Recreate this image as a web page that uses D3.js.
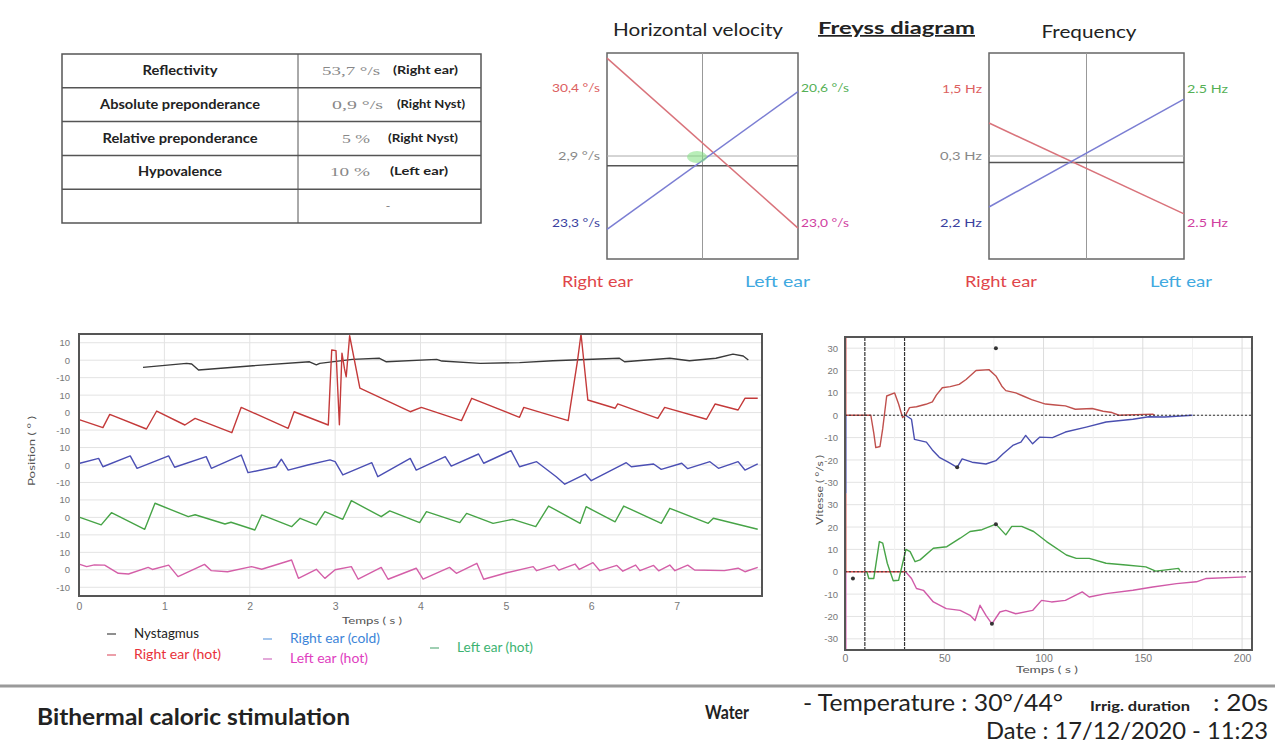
<!DOCTYPE html>
<html>
<head>
<meta charset="utf-8">
<script src="https://cdn.jsdelivr.net/npm/d3@7"></script>
<style>
  html, body { margin: 0; padding: 0; background: #fff; }
  svg { display: block; font-family: Lato, "Open Sans", sans-serif; }
  .tick text { fill: #777; }
</style>
</head>
<body>
<svg id="page" width="1275" height="747"></svg>
<script>
/* ---- Summary table ---- */
const tableLabels = ['Reflectivity', 'Absolute preponderance', 'Relative preponderance', 'Hypovalence', ''];
const tableValues = ['53,7 °/s', '0,9 °/s', '5 %', '10 %', '-'];
const tableSides = ['(Right ear)', '(Right Nyst)', '(Right Nyst)', '(Left ear)', ''];

/* ---- Freyss diagram (line ends in diagram units, left side -> right side) ---- */
const velRed = [38, -28];
const velBlue = [-28.5, 25];
const velRefLines = [0, -3.8];
const velLabelsLeft = ['30,4 °/s', '2,9 °/s', '23,3 °/s'];
const velLabelsRight = ['20,6 °/s', '23,0 °/s'];
const freqRed = [1.28, -2.25];
const freqBlue = [-1.98, 2.21];
const freqRefLines = [0, -0.25];
const freqLabelsLeft = ['1,5 Hz', '0,3 Hz', '2,2 Hz'];
const freqLabelsRight = ['2.5 Hz', '2.5 Hz'];

/* ---- Position traces [time s, position °] ---- */
const posTicks = [0, 1, 2, 3, 4, 5, 6, 7];
const bandTicks = [10, 0, -10];
const nystagmus = [[0.75,-4.1],[1.26,-1.8],[1.32,-2.2],[1.40,-5.6],[2.0,-3.3],[2.70,-0.9],[2.78,-2.7],[2.82,-1.8],[3.20,0.5],[3.52,1.1],[3.60,-0.9],[4.19,0.5],[4.25,-0.5],[4.70,-1.8],[5.16,-1.4],[5.55,-0.3],[6.33,1.1],[6.39,-0.9],[6.92,1.1],[7.15,-0.3],[7.46,1.1],[7.66,3.5],[7.78,2.4],[7.84,0.1]];
const rightHot = [[0.01,-4.2],[0.28,-8.6],[0.36,-1],[0.79,-9.4],[0.91,0.9],[1.24,-7.1],[1.36,-3.3],[1.79,-11.5],[1.90,3],[2.45,-9],[2.52,0.5],[2.92,-7.1],[2.96,35.8],[3.01,35.5],[3.05,-7],[3.08,34],[3.11,25],[3.13,20.5],[3.17,44],[3.29,14],[3.88,0.5],[4.01,3],[4.48,-4.6],[4.60,8.2],[5.16,-2.7],[5.21,3],[5.73,-4.6],[5.84,30],[5.88,45],[5.96,7.2],[6.28,2.5],[6.31,5],[6.78,-3.3],[6.86,3],[7.35,-3.8],[7.45,4.9],[7.72,1.5],[7.80,8.2],[7.95,8.2]];
const rightCold = [[0.01,1],[0.23,3.8],[0.28,-1],[0.60,5.2],[0.68,-1.9],[1.05,5.2],[1.12,-1.3],[1.49,4.8],[1.55,-1.9],[1.90,5.7],[1.98,-4.4],[2.31,-1],[2.37,3.3],[2.45,-2.9],[2.68,0],[2.94,2.9],[3.0,1.9],[3.09,-5.7],[3.43,1.3],[3.50,-6.7],[3.88,3.8],[3.95,-2.9],[4.29,4.8],[4.36,-0.6],[4.68,6.3],[4.74,1],[5.06,8.2],[5.16,-1],[5.36,1.9],[5.59,-6.7],[5.69,-11],[5.93,-5.2],[6.0,-9],[6.41,1.3],[6.47,-1],[6.73,0.6],[6.82,-2.5],[7.06,1],[7.13,-2.1],[7.39,1.9],[7.49,-1.9],[7.72,1.9],[7.80,-2.9],[7.95,0.6]];
const leftHot = [[0.01,0],[0.26,-4.3],[0.38,2.7],[0.77,-6.8],[0.89,8.1],[1.28,0.4],[1.36,1.5],[1.71,-3.8],[1.78,-2.8],[2.06,-7.2],[2.14,1.4],[2.49,-5.3],[2.59,-0.5],[2.78,-4.3],[2.88,3.3],[3.09,-1.1],[3.19,9.6],[3.54,0.4],[3.64,3.7],[3.99,-3],[4.07,3.3],[4.46,-3],[4.54,2.3],[4.85,-3.4],[5.08,-1.1],[5.35,-5.3],[5.50,6.5],[5.87,-3.4],[5.94,6.1],[6.28,-2.5],[6.38,6.5],[6.82,-3.4],[6.92,5.2],[7.37,-3.4],[7.43,-0.5],[7.95,-6.8]];
const leftCold = [[0.01,3.1],[0.09,1.8],[0.18,2.8],[0.30,2.7],[0.46,-2],[0.58,-2.4],[0.81,1.4],[0.86,0.2],[1.05,2.7],[1.16,-3.9],[1.47,3.1],[1.55,-0.5],[1.74,-1.1],[2.02,1.8],[2.14,0.3],[2.49,5.6],[2.57,-4.9],[2.78,0.3],[2.88,-4.9],[3.0,0],[3.19,1.8],[3.27,-5.4],[3.54,1.4],[3.62,-5.4],[3.95,0.9],[4.03,-5.4],[4.34,1.4],[4.42,-2],[4.66,3.7],[4.74,-5.4],[5.01,-1.7],[5.32,1.8],[5.36,-0.5],[5.57,2.7],[5.62,-0.2],[5.81,3.3],[5.86,0.2],[6.02,4.1],[6.10,-0.5],[6.30,2.5],[6.37,-0.8],[6.52,2.7],[6.57,-0.5],[6.73,2.5],[6.79,-0.6],[6.92,2.7],[6.98,-0.5],[7.13,2.7],[7.21,-0.1],[7.56,-0.5],[7.72,0.9],[7.80,-1.1],[7.95,1.4]];

/* ---- Velocity traces [time s, velocity °/s] ---- */
const velTimeTicks = [0, 50, 100, 150, 200];
const velBandTicks = [30, 20, 10, 0, -10, -20, -30];
const irrigation = [10, 30];
const velRightHot = [[0,0],[13,0],[14.5,-8],[15.5,-14.5],[17.6,-14],[19,-6],[21,8.6],[25,10],[27,5],[29,-1],[30.5,0],[32.5,3.4],[36,3.8],[40.7,4.9],[44,6],[46,9],[49,12.3],[53,12.8],[57.5,13.8],[61,16],[66,20],[72.5,20.4],[76,17.6],[79,13],[81,11],[86,10],[90,8.5],[94,7],[101,5],[106,4.6],[111,4.2],[116,2.7],[124.5,3],[130,1.8],[134.5,1.2],[138,0],[155,0.5],[156,0]];
const velRightCold = [[30.5,0],[33.5,-1.8],[35,-10.8],[41,-12],[44,-15.5],[47.5,-18.8],[52,-21],[56.5,-23.3],[59,-19.5],[64,-21],[71,-21.8],[76,-20.3],[79.5,-17.3],[84.5,-13.5],[88.6,-12],[91,-9],[94.5,-12.8],[98,-9.8],[104.5,-10],[111,-7.5],[121.5,-5.3],[131.5,-3],[145,-1.8],[153,-0.7],[161,-0.8],[175,0]];
const velLeftHot = [[11,0],[12,-3],[14.5,-3],[17.3,13.5],[19,12.8],[21.3,3.8],[24.3,-4],[27,-3.8],[30.7,10],[32.8,9],[35.3,4.5],[37.8,5.3],[44.5,10.5],[51.3,11.2],[58,15],[63,18],[69,18.8],[76,21.3],[81,16.5],[84,20.3],[89,20.3],[95,18],[101.5,13.5],[111.5,7.5],[116.5,6],[123,6],[131.5,3.8],[141.5,3],[151.5,2.2],[156.5,0.3],[168,1.5],[169,0]];
const velLeftCold = [[30.5,0],[33.5,-3],[36,-7.5],[39.5,-8.3],[44.5,-13.5],[51,-16.5],[58,-17.3],[63,-19.5],[65.5,-21.8],[68,-15],[71,-19.5],[74,-23.3],[78,-18],[81,-17.3],[86,-18.8],[94.5,-17.3],[99,-12.8],[104,-13.5],[111,-12.8],[119.5,-9],[123,-11.3],[131.5,-9.8],[145,-8.3],[155,-6.8],[167,-5.3],[177,-4.5],[182,-3],[202,-2.3]];
const velRedBase = [[0,0],[30.5,0]];
const velMarks = [[0,76,30],[0,56.5,-23.3],[1,4,-3],[1,76,21.3],[1,74,-23.3]];

const legendNames = ['Nystagmus', 'Right ear (hot)', 'Right ear (cold)', 'Left ear (hot)', 'Left ear (hot)'];

const svg = d3.select('#page');

// stretch a text to the width it has in the reference
function fit(sel, w) {
  return sel.attr('textLength', w).attr('lengthAdjust', 'spacingAndGlyphs');
}

/* ====================== Table ====================== */
const tbl = svg.append('g');
const rowY = d3.scaleBand().domain(d3.range(tableLabels.length)).range([54, 223]);
tbl.append('rect').attr('x', 62).attr('y', 54).attr('width', 419).attr('height', 169)
  .attr('fill', 'none').attr('stroke', '#555').attr('stroke-width', 1.5);
tbl.selectAll('line.row').data(d3.range(1, tableLabels.length)).join('line')
  .attr('x1', 62).attr('x2', 481).attr('y1', d => rowY(d)).attr('y2', d => rowY(d))
  .attr('stroke', '#555').attr('stroke-width', 1.5);
tbl.append('line').attr('x1', 298).attr('x2', 298).attr('y1', 54).attr('y2', 223)
  .attr('stroke', '#555').attr('stroke-width', 1);
const labW = [75, 160, 155, 84, 0];
tableLabels.forEach((d, i) => {
  if (!d) return;
  fit(tbl.append('text')
    .attr('x', 180).attr('y', rowY(i) + rowY.bandwidth() / 2 + 4)
    .attr('text-anchor', 'middle').attr('font-size', 12.5).attr('font-weight', 700).attr('fill', '#222')
    .text(d), labW[i]);
});
const valX = [322, 332, 342, 330, 386];
const valW = [58, 51, 28, 40, 4];
tableValues.forEach((d, i) => {
  fit(tbl.append('text')
    .attr('x', valX[i]).attr('y', rowY(i) + rowY.bandwidth() / 2 + 4)
    .attr('font-family', '"Liberation Serif", serif').attr('font-size', 13).attr('fill', '#888')
    .text(d), valW[i]);
});
const sideX = [393, 397, 388, 390];
const sideW = [65, 68, 70, 58];
tableSides.forEach((d, i) => {
  if (!d) return;
  fit(tbl.append('text')
    .attr('x', sideX[i]).attr('y', rowY(i) + rowY.bandwidth() / 2 + 3)
    .attr('font-size', 10.5).attr('font-weight', 700).attr('fill', '#222')
    .text(d), sideW[i]);
});

/* ====================== Freyss diagrams ====================== */
fit(svg.append('text').attr('x', 818).attr('y', 34).attr('font-size', 17).attr('font-weight', 700)
  .attr('fill', '#222').attr('text-decoration', 'underline').text('Freyss diagram'), 157);

function freyss(o) {
  const { x0, x1 } = o;
  const g = svg.append('g');
  const y = d3.scaleLinear().domain(o.domain).range([259, 53]);
  const xs = d3.scaleLinear().domain([0, 1]).range([x0, x1]);
  fit(g.append('text').attr('x', o.titleX).attr('y', o.titleY).attr('text-anchor', 'middle')
    .attr('font-size', 17).attr('fill', '#222').text(o.title), o.titleW);
  g.append('rect').attr('x', x0).attr('y', 53).attr('width', x1 - x0).attr('height', 206)
    .attr('fill', '#fff').attr('stroke', '#666').attr('stroke-width', 1.5);
  g.append('line').attr('x1', xs(0.5)).attr('x2', xs(0.5)).attr('y1', 53).attr('y2', 259)
    .attr('stroke', '#999').attr('stroke-width', 1);
  g.selectAll('line.ref').data(o.refs).join('line')
    .attr('x1', x0).attr('x2', x1).attr('y1', d => y(d)).attr('y2', d => y(d))
    .attr('stroke', (d, i) => i === 0 ? '#aaa' : '#555').attr('stroke-width', (d, i) => i === 0 ? 1 : 1.5);
  const line = d3.line().x((d, i) => xs(i)).y(d => y(d));
  g.append('path').attr('d', line(o.red)).attr('fill', 'none').attr('stroke', '#d9737b').attr('stroke-width', 1.5);
  g.append('path').attr('d', line(o.blue)).attr('fill', 'none').attr('stroke', '#7b7ed3').attr('stroke-width', 1.5);
  const leftCol = ['#dc6060', '#888', '#3a3f9e'];
  o.labL.forEach((d, i) => {
    fit(g.append('text').attr('x', x0 - 7).attr('y', y(o.unitsAt[i]) + 4).attr('text-anchor', 'end')
      .attr('font-size', 11).attr('fill', leftCol[i]).text(d), o.labLW[i]);
  });
  const rightCol = ['#55b055', '#d0409f'];
  o.labR.forEach((d, i) => {
    fit(g.append('text').attr('x', x1 + 3).attr('y', y(o.unitsAt[i * 2]) + 4)
      .attr('font-size', 11).attr('fill', rightCol[i]).text(d), o.labRW);
  });
  fit(g.append('text').attr('x', o.rightEar[0]).attr('y', 287).attr('font-size', 16)
    .attr('fill', '#e0454a').text('Right ear'), o.rightEar[1]);
  fit(g.append('text').attr('x', o.leftEar[0]).attr('y', 287).attr('font-size', 16)
    .attr('fill', '#3fa9e0').text('Left ear'), o.leftEar[1]);
  return { g, y, xs };
}

const vel = freyss({
  x0: 607, x1: 798, domain: [-40, 40], red: velRed, blue: velBlue, refs: velRefLines,
  labL: velLabelsLeft, labLW: [48, 42, 48], labR: velLabelsRight, labRW: 48,
  title: 'Horizontal velocity', titleX: 698, titleY: 36, titleW: 170,
  unitsAt: [26.5, 0, -26], rightEar: [562, 71], leftEar: [745, 65]
});
vel.g.append('ellipse').attr('cx', 697).attr('cy', 157).attr('rx', 10).attr('ry', 6)
  .attr('fill', '#7ee07e').attr('opacity', 0.55);
freyss({
  x0: 989, x1: 1184, domain: [-4, 4], red: freqRed, blue: freqBlue, refs: freqRefLines,
  labL: freqLabelsLeft, labLW: [40, 42, 42], labR: freqLabelsRight, labRW: 41,
  title: 'Frequency', titleX: 1089, titleY: 38, titleW: 95,
  unitsAt: [2.6, 0, -2.6], rightEar: [965, 72], leftEar: [1150, 62]
});

/* ====================== Position chart ====================== */
const pos = { left: 79, right: 762, top: 334, bottom: 596 };
const px = d3.scaleLinear().domain([0, 8]).range([pos.left, pos.right]);
const py = d3.scaleLinear().domain([0, 150]).range([pos.bottom, pos.top]);
const posBand = b => 15 + 30 * (4 - b);
const posTickVals = [];
const posTickText = {};
d3.range(5).forEach(b => bandTicks.forEach(v => { posTickVals.push(posBand(b) + v); posTickText[posBand(b) + v] = v; }));

const pg = svg.append('g');
pg.append('g').selectAll('line').data(posTickVals).join('line')
  .attr('x1', pos.left).attr('x2', pos.right).attr('y1', d => py(d)).attr('y2', d => py(d))
  .attr('stroke', '#e3e3e3');
pg.append('g').selectAll('line').data(posTicks.slice(1)).join('line')
  .attr('x1', d => px(d)).attr('x2', d => px(d)).attr('y1', pos.top).attr('y2', pos.bottom)
  .attr('stroke', '#e3e3e3');

pg.append('g').attr('transform', `translate(${pos.left},0)`)
  .call(d3.axisLeft(py).tickValues(posTickVals).tickSize(0).tickPadding(9).tickFormat(d => posTickText[d]))
  .call(a => a.select('.domain').remove())
  .selectAll('text').attr('font-size', 9.5);
pg.append('g').attr('transform', `translate(0,${pos.bottom})`)
  .call(d3.axisBottom(px).tickValues(posTicks).tickSize(0).tickPadding(7))
  .call(a => a.select('.domain').remove())
  .selectAll('text').attr('font-size', 10.5);

const posLine = b => d3.line().x(d => px(d[0])).y(d => py(posBand(b) + d[1]));
const posSeries = [
  [nystagmus, '#3a3a3a', 0],
  [rightHot, '#c43a3a', 1],
  [rightCold, '#4b4fb4', 2],
  [leftHot, '#47a447', 3],
  [leftCold, '#d45fa8', 4]
];
pg.append('g').selectAll('path').data(posSeries).join('path')
  .attr('d', d => posLine(d[2])(d[0]))
  .attr('fill', 'none').attr('stroke', d => d[1]).attr('stroke-width', 1.4).attr('stroke-linejoin', 'round');

pg.append('rect').attr('x', pos.left).attr('y', pos.top)
  .attr('width', pos.right - pos.left).attr('height', pos.bottom - pos.top)
  .attr('fill', 'none').attr('stroke', '#555').attr('stroke-width', 2);

fit(pg.append('text').attr('transform', `translate(35,451) rotate(-90)`)
  .attr('text-anchor', 'middle').attr('font-size', 10).attr('fill', '#555').text('Position ( ° )'), 70);
fit(pg.append('text').attr('x', 372).attr('y', 624).attr('text-anchor', 'middle')
  .attr('font-size', 10).attr('fill', '#555').text('Temps ( s )'), 60);

/* legend */
const legendPos = [[107, 638], [107, 659], [263, 643], [263, 663], [430, 652]];
const legendW = [65, 87, 90, 78, 76];
const legendText = ['#222', '#e8323a', '#3d85d8', '#e040c0', '#3cb371'];
const legendDash = ['#444', '#e06070', '#6aa0e0', '#d070c0', '#60b080'];
legendNames.forEach((d, i) => {
  const lg = svg.append('g').attr('transform', `translate(${legendPos[i][0]},${legendPos[i][1]})`);
  lg.append('line').attr('x1', 0).attr('x2', 9).attr('y1', -4).attr('y2', -4)
    .attr('stroke', legendDash[i]).attr('stroke-width', 1.2);
  fit(lg.append('text').attr('x', 27).attr('font-size', 13).attr('fill', legendText[i]).text(d), legendW[i]);
});

/* ====================== Velocity chart ====================== */
const vp = { left: 845, right: 1252, top: 337, bottom: 650 };
const vx = d3.scaleLinear().domain([0, 205]).range([vp.left, vp.right]);
const vy = d3.scaleLinear().domain([0, 140]).range([vp.bottom, vp.top]);
const velBand = b => b === 0 ? 105 : 35;
const velTickVals = [];
const velTickText = {};
[0, 1].forEach(b => velBandTicks.forEach(v => { velTickVals.push(velBand(b) + v); velTickText[velBand(b) + v] = v; }));

const vg = svg.append('g');
vg.append('g').selectAll('line').data(velTickVals).join('line')
  .attr('x1', vp.left).attr('x2', vp.right).attr('y1', d => vy(d)).attr('y2', d => vy(d))
  .attr('stroke', '#e3e3e3');
vg.append('g').selectAll('line').data([25, 50, 75, 100, 125, 150, 175, 200]).join('line')
  .attr('x1', d => vx(d)).attr('x2', d => vx(d)).attr('y1', vp.top).attr('y2', vp.bottom)
  .attr('stroke', d => d % 50 === 0 ? '#dcdcdc' : '#f0f0f0');

vg.append('g').attr('transform', `translate(${vp.left},0)`)
  .call(d3.axisLeft(vy).tickValues(velTickVals).tickSize(0).tickPadding(7).tickFormat(d => velTickText[d]))
  .call(a => a.select('.domain').remove())
  .selectAll('text').attr('font-size', 9.5);
vg.append('g').attr('transform', `translate(0,${vp.bottom})`)
  .call(d3.axisBottom(vx).tickValues(velTimeTicks).tickSize(0).tickPadding(5))
  .call(a => a.select('.domain').remove())
  .selectAll('text').attr('font-size', 10.5);

/* colored edge at t = 0 */
const edge = [[0, 0, 35, '#e07070'], [0, -35, 0, '#5a5ab8'], [1, 0, 35, '#e07070'], [1, -35, 0, '#e070c0']];
vg.append('g').selectAll('line').data(edge).join('line')
  .attr('x1', vx(0) + 1).attr('x2', vx(0) + 1)
  .attr('y1', d => vy(velBand(d[0]) + d[1])).attr('y2', d => vy(velBand(d[0]) + d[2]))
  .attr('stroke', d => d[3]).attr('stroke-width', 1.2);

const velLine = b => d3.line().x(d => vx(d[0])).y(d => vy(velBand(b) + d[1]));
const velSeries = [
  [velRedBase, '#d85050', 1],
  [velRightHot, '#c0504d', 0],
  [velRightCold, '#4a4fb0', 0],
  [velLeftHot, '#47a447', 1],
  [velLeftCold, '#d05aa8', 1]
];
vg.append('g').selectAll('path').data(velSeries).join('path')
  .attr('d', d => velLine(d[2])(d[0]))
  .attr('fill', 'none').attr('stroke', d => d[1]).attr('stroke-width', 1.4).attr('stroke-linejoin', 'round');

/* zero lines and irrigation markers */
vg.append('g').selectAll('line').data([0, 1]).join('line')
  .attr('x1', vp.left).attr('x2', vp.right).attr('y1', d => vy(velBand(d))).attr('y2', d => vy(velBand(d)))
  .attr('stroke', '#333').attr('stroke-width', 1).attr('stroke-dasharray', '2,2');
vg.append('g').selectAll('line').data(irrigation).join('line')
  .attr('x1', d => vx(d)).attr('x2', d => vx(d)).attr('y1', vp.top).attr('y2', vp.bottom)
  .attr('stroke', '#333').attr('stroke-width', 1.2).attr('stroke-dasharray', '4,1');

vg.append('g').selectAll('circle').data(velMarks).join('circle')
  .attr('cx', d => vx(d[1])).attr('cy', d => vy(velBand(d[0]) + d[2])).attr('r', 2)
  .attr('fill', '#333');

vg.append('rect').attr('x', vp.left).attr('y', vp.top)
  .attr('width', vp.right - vp.left).attr('height', vp.bottom - vp.top)
  .attr('fill', 'none').attr('stroke', '#555').attr('stroke-width', 2);

fit(vg.append('text').attr('transform', `translate(823,490) rotate(-90)`)
  .attr('text-anchor', 'middle').attr('font-size', 10).attr('fill', '#555').text('Vitesse ( °/s )'), 70);
fit(vg.append('text').attr('x', 1047).attr('y', 673).attr('text-anchor', 'middle')
  .attr('font-size', 10).attr('fill', '#555').text('Temps ( s )'), 62);

/* ====================== Footer ====================== */
svg.append('line').attr('x1', 0).attr('x2', 1275).attr('y1', 686).attr('y2', 686)
  .attr('stroke', '#9a9a9a').attr('stroke-width', 3);
fit(svg.append('text').attr('x', 37).attr('y', 725).attr('font-size', 23).attr('font-weight', 700)
  .attr('fill', '#222').text('Bithermal caloric stimulation'), 313);
fit(svg.append('text').attr('x', 705).attr('y', 719).attr('font-size', 18).attr('font-weight', 700)
  .attr('fill', '#222').text('Water'), 44);
fit(svg.append('text').attr('x', 803).attr('y', 711).attr('font-size', 23).attr('fill', '#222')
  .text('- Temperature : 30°/44°'), 260);
fit(svg.append('text').attr('x', 1090).attr('y', 711).attr('font-size', 13).attr('font-weight', 700)
  .attr('fill', '#222').text('Irrig. duration'), 100);
fit(svg.append('text').attr('x', 1213).attr('y', 711).attr('font-size', 23).attr('fill', '#222').text(': 20s'), 55);
fit(svg.append('text').attr('x', 986).attr('y', 739).attr('font-size', 23).attr('fill', '#222')
  .text('Date : 17/12/2020 - 11:23'), 282);
</script>
</body>
</html>
